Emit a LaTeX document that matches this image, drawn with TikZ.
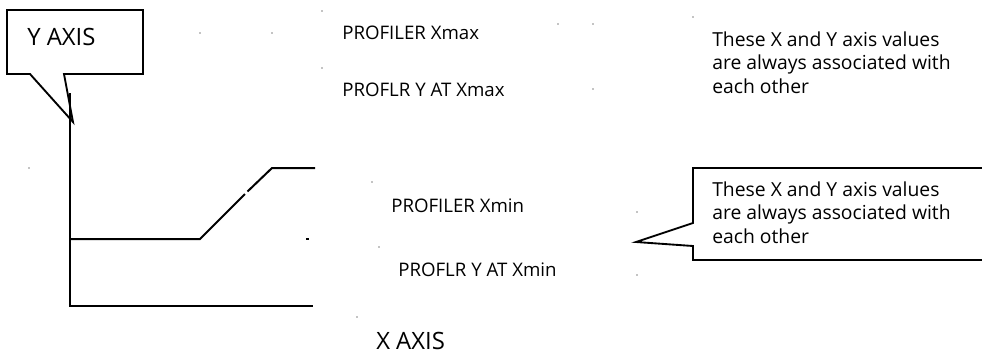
\documentclass[tikz,border=0pt]{standalone}
\usepackage{fontspec}
\setmainfont{Open Sans}
\begin{document}
\begin{tikzpicture}[x=0.75pt,y=-0.75pt,
  outl/.style={draw=black,line width=1.4pt,line join=miter},
  axisl/.style={draw=black,line width=1.5pt},
  lbl/.style={inner sep=0pt,anchor=base west,font=\fontsize{14pt}{17.6pt}\selectfont},
  biglbl/.style={inner sep=0pt,anchor=base west,font=\fontsize{17.9pt}{20pt}\selectfont},
  note/.style={inner sep=0pt,anchor=base west,align=left,font=\fontsize{14.5pt}{17.6pt}\selectfont},
  speck/.style={fill=black,draw=none}]
\useasboundingbox (0,0) rectangle (982,354);
% Y AXIS callout
\draw[outl] (7,10) -- (143,10) -- (143,74) -- (64,74) -- (73,122) -- (30,74) -- (7,74) -- cycle;
\node[biglbl] (yaxis) at (27,45) {Y AXIS};
% axes
\coordinate (ytop) at (70,93);
\coordinate (origin) at (70,306);
\coordinate (xend) at (313,306);
\draw[axisl] (ytop) -- (origin) -- (xend);
% profile
\coordinate (p0) at (70,239);
\coordinate (p1) at (200,239);
\coordinate (g0) at (245,194);
\coordinate (g1) at (247.5,191.5);
\coordinate (p2) at (272,168);
\coordinate (p3) at (315,168);
\draw[axisl] (p0) -- (p1) -- (g0);
\draw[axisl] (g1) -- (p2) -- (p3);
% labels
\node[lbl] (xmax) at (342,39) {PROFILER Xmax};
\node[lbl] (yxmax) at (342,96) {PROFLR Y AT Xmax};
\node[lbl] (xmin) at (391,212) {PROFILER Xmin};
\node[lbl] (yxmin) at (398,276) {PROFLR Y AT Xmin};
\node[biglbl] (xaxis) at (376,349) {X AXIS};
\node[note] (note1) at (712,93) {These X and Y axis values\\are always associated with\\each other};
% right callout
\draw[outl] (982,168) -- (693,168) -- (693,223) -- (636,242) -- (693,246) -- (693,260) -- (982,260);
\node[note] (note2) at (712,243) {These X and Y axis values\\are always associated with\\each other};
% specks
\foreach \p in {(322,11),(200,33),(272,33),(322,68),(29,168),(558,24),(593,24),(593,89),(372,182),(637,212),(379,247),(637,275),(357,317),(693,17)}
  \fill[speck] \p circle (0.7);
\fill[speck] (306,238.3) rectangle (308.5,239.7);
\end{tikzpicture}
\end{document}
